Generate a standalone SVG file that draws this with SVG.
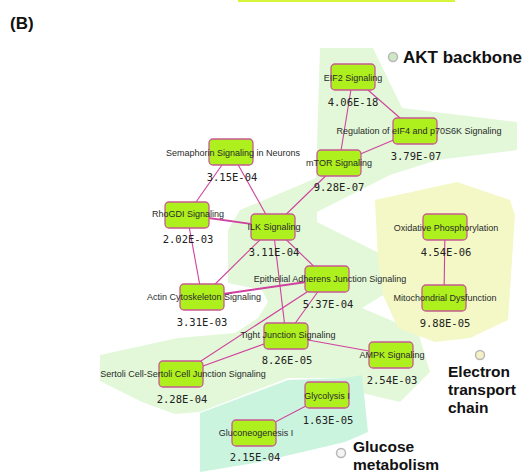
<svg xmlns="http://www.w3.org/2000/svg" width="530" height="475" viewBox="0 0 530 475">
<style>
.bg{stroke:none}
.e{stroke:#d0409e;stroke-width:1.1;fill:none}
.et{stroke:#d0409e;stroke-width:1.8;fill:none}
.n{fill:#aeef1e;stroke:#c85a92;stroke-width:1.3}
.l{font-family:"Liberation Sans",Arial,sans-serif;font-size:9px;fill:#2a2a2a;text-anchor:middle}
.v{font-family:"DejaVu Sans Mono",monospace;font-size:10.5px;fill:#222;text-anchor:middle}
.t{font-family:"Liberation Sans",Arial,sans-serif;font-size:17px;font-weight:bold;fill:#111}
.t2{font-family:"Liberation Sans",Arial,sans-serif;font-size:15.5px;font-weight:bold;fill:#111}
.c{stroke:#b8b8b8;stroke-width:1.5}
</style>
<rect width="530" height="475" fill="#ffffff"/>
<rect x="238" y="0" width="217" height="2" fill="#d6f53a"/>
<text x="10" y="29" class="t">(B)</text>

<g id="regions">
<polygon class="bg" fill="#e2f8d8" points="320,48 373,48 402,108 517,122 517,150 437,160 390,175 317,212 317,222 407,267 413,277 388,292 362,308 418,332 430,372 400,402 362,393 340,378 288,378 200,412 175,414 142,402 100,381 100,355 178,338 235,333 258,318 268,302 262,290 228,283 228,230 240,210 300,185 316,178"/>
<polygon class="bg" fill="#f3f8c6" points="375,200 457,182 510,200 515,215 508,320 470,338 435,342 398,328 383,295 378,260"/>
<polygon class="bg" fill="#cbf4df" points="200,413 288,380 345,378 362,375 368,432 345,442 260,462 200,472"/>
</g>

<g id="legend-akt">
<circle class="c" cx="393" cy="57" r="4.5" fill="#cde8c4"/>
<text x="403" y="63" class="t">AKT backbone</text>
</g>
<g id="legend-etc">
<circle class="c" cx="480" cy="355" r="4.5" fill="#f6f1c4"/>
<text class="t2"><tspan x="448" y="377">Electron</tspan><tspan x="448" y="395">transport</tspan><tspan x="448" y="413">chain</tspan></text>
</g>
<g id="legend-glucose">
<circle class="c" cx="341" cy="453" r="4.5" fill="#f4f4f4"/>
<text class="t2"><tspan x="353" y="452">Glucose</tspan><tspan x="353" y="470">metabolism</tspan></text>
</g>

<g id="connectors">
<line class="e" x1="353" y1="77" x2="415" y2="131"/>
<line class="e" x1="353" y1="77" x2="339" y2="163"/>
<line class="e" x1="415" y1="131" x2="339" y2="163"/>
<line class="e" x1="339" y1="163" x2="273" y2="227"/>
<line class="e" x1="231" y1="152" x2="187" y2="215"/>
<line class="e" x1="231" y1="152" x2="273" y2="227"/>
<line class="et" x1="187" y1="215" x2="273" y2="227"/>
<line class="e" x1="187" y1="215" x2="202" y2="297"/>
<line class="e" x1="273" y1="227" x2="202" y2="297"/>
<line class="e" x1="273" y1="227" x2="327" y2="279"/>
<line class="e" x1="273" y1="227" x2="286" y2="336"/>
<line class="et" x1="202" y1="297" x2="327" y2="279"/>
<line class="e" x1="327" y1="279" x2="286" y2="336"/>
<line class="e" x1="327" y1="279" x2="181" y2="374"/>
<line class="e" x1="286" y1="336" x2="181" y2="374"/>
<line class="e" x1="286" y1="336" x2="391" y2="355"/>
<line class="e" x1="327" y1="395" x2="254" y2="433"/>
<line class="e" x1="445" y1="227" x2="444" y2="298"/>
</g>

<g id="eif2"><rect class="n" x="331" y="64" width="44" height="26" rx="4"/><text class="l" x="353" y="81">EIF2 Signaling</text><text class="v" x="353" y="106">4.06E-18</text></g>
<g id="eif4"><rect class="n" x="393" y="118" width="44" height="26" rx="4"/><text class="l" x="419" y="134">Regulation of eIF4 and p70S6K Signaling</text><text class="v" x="416" y="160">3.79E-07</text></g>
<g id="mtor"><rect class="n" x="317" y="150" width="44" height="26" rx="4"/><text class="l" x="339" y="166">mTOR Signaling</text><text class="v" x="339" y="191">9.28E-07</text></g>
<g id="semaphorin"><rect class="n" x="209" y="139" width="44" height="26" rx="4"/><text class="l" x="233" y="156">Semaphorin Signaling in Neurons</text><text class="v" x="232" y="181">3.15E-04</text></g>
<g id="rhogdi"><rect class="n" x="165" y="202" width="44" height="26" rx="4"/><text class="l" x="188" y="217">RhoGDI Signaling</text><text class="v" x="188" y="243">2.02E-03</text></g>
<g id="ilk"><rect class="n" x="251" y="214" width="44" height="26" rx="4"/><text class="l" x="274" y="230">ILK Signaling</text><text class="v" x="274" y="256">3.11E-04</text></g>
<g id="epithelial"><rect class="n" x="305" y="266" width="44" height="26" rx="4"/><text class="l" x="330" y="282">Epithelial Adherens Junction Signaling</text><text class="v" x="328" y="308">5.37E-04</text></g>
<g id="actin"><rect class="n" x="180" y="284" width="44" height="26" rx="4"/><text class="l" x="204" y="300">Actin Cytoskeleton Signaling</text><text class="v" x="202" y="326">3.31E-03</text></g>
<g id="tight"><rect class="n" x="264" y="323" width="44" height="26" rx="4"/><text class="l" x="288" y="338">Tight Junction Signaling</text><text class="v" x="287" y="364">8.26E-05</text></g>
<g id="ampk"><rect class="n" x="369" y="342" width="44" height="26" rx="4"/><text class="l" x="392" y="358">AMPK Signaling</text><text class="v" x="392" y="384">2.54E-03</text></g>
<g id="sertoli"><rect class="n" x="159" y="361" width="44" height="26" rx="4"/><text class="l" x="183" y="377">Sertoli Cell-Sertoli Cell Junction Signaling</text><text class="v" x="182" y="403">2.28E-04</text></g>
<g id="glycolysis"><rect class="n" x="305" y="382" width="44" height="26" rx="4"/><text class="l" x="327" y="399">Glycolysis I</text><text class="v" x="328" y="424">1.63E-05</text></g>
<g id="gluconeogenesis"><rect class="n" x="232" y="420" width="44" height="26" rx="4"/><text class="l" x="256" y="436">Gluconeogenesis I</text><text class="v" x="255" y="461">2.15E-04</text></g>
<g id="oxphos"><rect class="n" x="423" y="214" width="44" height="26" rx="4"/><text class="l" x="446" y="231">Oxidative Phosphorylation</text><text class="v" x="446" y="256">4.54E-06</text></g>
<g id="mito"><rect class="n" x="422" y="285" width="44" height="26" rx="4"/><text class="l" x="445" y="301">Mitochondrial Dysfunction</text><text class="v" x="445" y="327">9.88E-05</text></g>
</svg>
